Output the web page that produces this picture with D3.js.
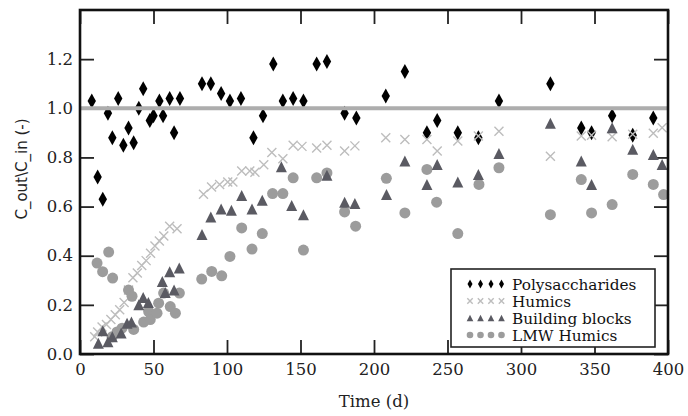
<!DOCTYPE html>
<html><head><meta charset="utf-8">
<script src="https://cdn.jsdelivr.net/npm/d3@7"></script>
<style>
html,body{margin:0;padding:0;background:#fff;}
svg{display:block;}
</style></head>
<body>
<svg id="chart" width="688" height="416"></svg>
<script>
// ---- data ----
const polyDays = [8, 12, 15.5, 19, 22, 26, 29.5, 33, 36.5, 40, 43, 47.5, 50, 54, 56.5, 61, 64, 68, 83, 89, 96, 102, 109.5, 118, 124.5, 131.5, 138, 145, 152, 161, 168, 180, 188, 208, 221, 236, 243, 257, 271, 285, 320, 341, 348, 362, 376, 390];
const polyValues = [1.03, 0.72, 0.63, 0.98, 0.88, 1.04, 0.85, 0.92, 0.86, 1.00, 1.08, 0.95, 0.97, 1.03, 0.97, 1.04, 0.90, 1.04, 1.10, 1.10, 1.06, 1.03, 1.04, 0.88, 0.97, 1.18, 1.03, 1.04, 1.03, 1.18, 1.19, 0.98, 0.96, 1.05, 1.15, 0.90, 0.95, 0.90, 0.88, 1.03, 1.10, 0.92, 0.90, 0.97, 0.89, 0.96];

const humDays = [10, 12, 15, 18, 21, 24, 27, 30, 33, 36, 39, 42, 45, 48, 51, 54, 57, 61, 66, 84, 89.5, 95, 100.5, 104, 110, 115.5, 119, 125, 130.5, 138, 145, 151, 161, 168, 180, 187, 208, 221, 236, 243, 257, 271, 285, 320, 341, 348, 362, 376, 390, 396];
const humValues = [0.07, 0.09, 0.11, 0.12, 0.14, 0.16, 0.18, 0.21, 0.26, 0.31, 0.33, 0.36, 0.38, 0.41, 0.44, 0.46, 0.48, 0.52, 0.51, 0.65, 0.68, 0.69, 0.70, 0.70, 0.745, 0.745, 0.74, 0.77, 0.82, 0.795, 0.85, 0.845, 0.838, 0.85, 0.826, 0.847, 0.88, 0.873, 0.873, 0.826, 0.867, 0.887, 0.907, 0.805, 0.887, 0.89, 0.884, 0.894, 0.898, 0.921];

const bbDays = [12.5, 15.5, 19, 22, 28, 32, 35, 40, 43, 46.5, 56, 58, 61, 64, 67.5, 83, 89, 96, 103, 110, 117, 124, 137, 144, 152, 168, 180, 187, 208.5, 221, 236, 243, 257, 271, 285, 320, 341, 348, 362, 376, 390, 396];
const bbValues = [0.044, 0.095, 0.05, 0.07, 0.085, 0.125, 0.13, 0.20, 0.23, 0.21, 0.295, 0.25, 0.335, 0.26, 0.35, 0.486, 0.558, 0.59, 0.585, 0.645, 0.59, 0.626, 0.762, 0.604, 0.567, 0.727, 0.618, 0.612, 0.649, 0.785, 0.69, 0.771, 0.70, 0.731, 0.816, 0.939, 0.785, 0.69, 0.921, 0.833, 0.812, 0.771];

const lmwDays = [11.6, 15.4, 19.5, 22.2, 21.8, 25.2, 28.6, 33, 35.4, 36.5, 43.3, 46.7, 47.8, 52.4, 53.5, 56.9, 61.4, 64.9, 67.6, 82.8, 89.6, 96.4, 102, 110, 117, 124, 131, 138, 145, 152, 161, 168, 180, 187.5, 208.4, 221, 236, 242.6, 257, 271.4, 285, 320, 341, 348, 362, 376, 390, 397];
const lmwValues = [0.37, 0.335, 0.415, 0.309, 0.07, 0.09, 0.105, 0.26, 0.235, 0.10, 0.13, 0.173, 0.14, 0.166, 0.207, 0.248, 0.193, 0.166, 0.248, 0.305, 0.336, 0.318, 0.397, 0.513, 0.427, 0.49, 0.653, 0.653, 0.717, 0.423, 0.717, 0.737, 0.578, 0.52, 0.715, 0.574, 0.751, 0.618, 0.49, 0.69, 0.758, 0.567, 0.71, 0.574, 0.608, 0.731, 0.69, 0.649];

const xTicks = [0, 50, 100, 150, 200, 250, 300, 350, 400];
const yTicks = [0.0, 0.2, 0.4, 0.6, 0.8, 1.0, 1.2];
const seriesNames = ["Polysaccharides", "Humics", "Building blocks", "LMW Humics"];
const refLine = [1.0];
const xLabel = "Time (d)";
const yLabel = "C_out\\C_in (-)";

// ---- layout ----
const W = 688, H = 416;
const m = {left: 80, right: 20, top: 10, bottom: 62};
const iw = W - m.left - m.right, ih = H - m.top - m.bottom;
const svg = d3.select("#chart");
const g = svg.append("g").attr("transform", `translate(${m.left},${m.top})`);

const x = d3.scaleLinear().domain([0, 400]).range([0, iw]);
const y = d3.scaleLinear().domain([0, 1.4]).range([ih, 0]);

const serif = "'DejaVu Serif', serif";
const tickLen = 14;

function styleAxis(sel) {
  sel.select(".domain").remove();
  sel.selectAll(".tick line").attr("stroke", "#222").attr("stroke-width", 1.8);
  sel.selectAll(".tick text").attr("font-family", serif).attr("font-size", 16.5).attr("fill", "#222");
}

g.append("g").attr("transform", `translate(0,${ih})`)
  .call(d3.axisBottom(x).tickValues(xTicks).tickFormat(d3.format("d")).tickSizeInner(-tickLen).tickSizeOuter(0).tickPadding(9))
  .call(styleAxis);
g.append("g")
  .call(d3.axisTop(x).tickValues(xTicks).tickFormat("").tickSizeInner(-tickLen).tickSizeOuter(0))
  .call(styleAxis);
g.append("g")
  .call(d3.axisLeft(y).tickValues(yTicks).tickFormat(d3.format(".1f")).tickSizeInner(-tickLen).tickSizeOuter(0).tickPadding(7))
  .call(styleAxis);
g.append("g").attr("transform", `translate(${iw},0)`)
  .call(d3.axisRight(y).tickValues(yTicks).tickFormat("").tickSizeInner(-tickLen).tickSizeOuter(0))
  .call(styleAxis);

// ---- markers ----
const shapes = {
  diamond: "M0,-7.5L4.2,0L0,7.5L-4.2,0Z",
  cross: "M-4.5,-4.5L4.5,4.5M-4.5,4.5L4.5,-4.5",
  tri: "M0,-5.5L5.5,5.5L-5.5,5.5Z"
};
const styles = [
  {shape: "diamond", fill: "#000", stroke: "none", sw: 0},
  {shape: "cross", fill: "none", stroke: "#bdbdbd", sw: 1.4},
  {shape: "tri", fill: "#5a5a62", stroke: "none", sw: 0},
  {shape: "circle", fill: "#9c9c9c", stroke: "none", sw: 0}
];

function drawMarks(parent, pts, st, scale) {
  const sel = parent.selectAll(null).data(pts).enter();
  if (st.shape === "circle") {
    sel.append("circle").attr("cx", d => d[0]).attr("cy", d => d[1]).attr("r", 5.5 * scale)
      .attr("fill", st.fill);
  } else {
    sel.append("path").attr("d", shapes[st.shape])
      .attr("transform", d => `translate(${d[0]},${d[1]}) scale(${scale})`)
      .attr("fill", st.fill).attr("stroke", st.stroke).attr("stroke-width", st.sw / scale);
  }
}

const plotArea = g.append("g");
const seriesData = [
  [polyDays, polyValues],
  [humDays, humValues],
  [bbDays, bbValues],
  [lmwDays, lmwValues]
];
const drawOrder = [0, 1, 3, 2];
drawOrder.forEach(i => {
  const [ds, vs] = seriesData[i];
  const pts = ds.map((d, k) => [x(d), y(vs[k])]);
  drawMarks(plotArea.append("g"), pts, styles[i], 1);
});

// reference line at 1.0
g.selectAll(null).data(refLine).enter().append("line")
  .attr("x1", 0).attr("x2", iw).attr("y1", d => y(d)).attr("y2", d => y(d))
  .attr("stroke", "#adadad").attr("stroke-width", 4);

// frame
g.append("rect").attr("x", 0).attr("y", 0).attr("width", iw).attr("height", ih)
  .attr("fill", "none").attr("stroke", "#111").attr("stroke-width", 2.6);

// ---- legend ----
const lg = svg.append("g").attr("transform", "translate(451,269)");
lg.append("rect").attr("x", 0).attr("y", 0).attr("width", 204).attr("height", 78)
  .attr("fill", "#fff").attr("stroke", "#222").attr("stroke-width", 1.6);
const rowY = [15, 32, 49, 66];
seriesNames.forEach((name, i) => {
  const pts = [19, 29.5, 40, 50.5].map(px => [px, rowY[i]]);
  drawMarks(lg.append("g"), pts, styles[i], 0.6);
  lg.append("text").attr("x", 61).attr("y", rowY[i] + 5.5)
    .attr("font-family", serif).attr("font-size", 15.3).attr("fill", "#111").text(name);
});

// ---- axis titles ----
svg.append("text").attr("x", m.left + iw / 2).attr("y", 407).attr("text-anchor", "middle")
  .attr("font-family", serif).attr("font-size", 16.5).attr("fill", "#222").text(xLabel);
svg.append("text").attr("transform", `translate(27,169) rotate(-90)`)
  .attr("text-anchor", "middle").attr("font-family", "'DejaVu Sans', sans-serif")
  .attr("font-size", 15).attr("fill", "#222").text(yLabel);
</script>
</body></html>
